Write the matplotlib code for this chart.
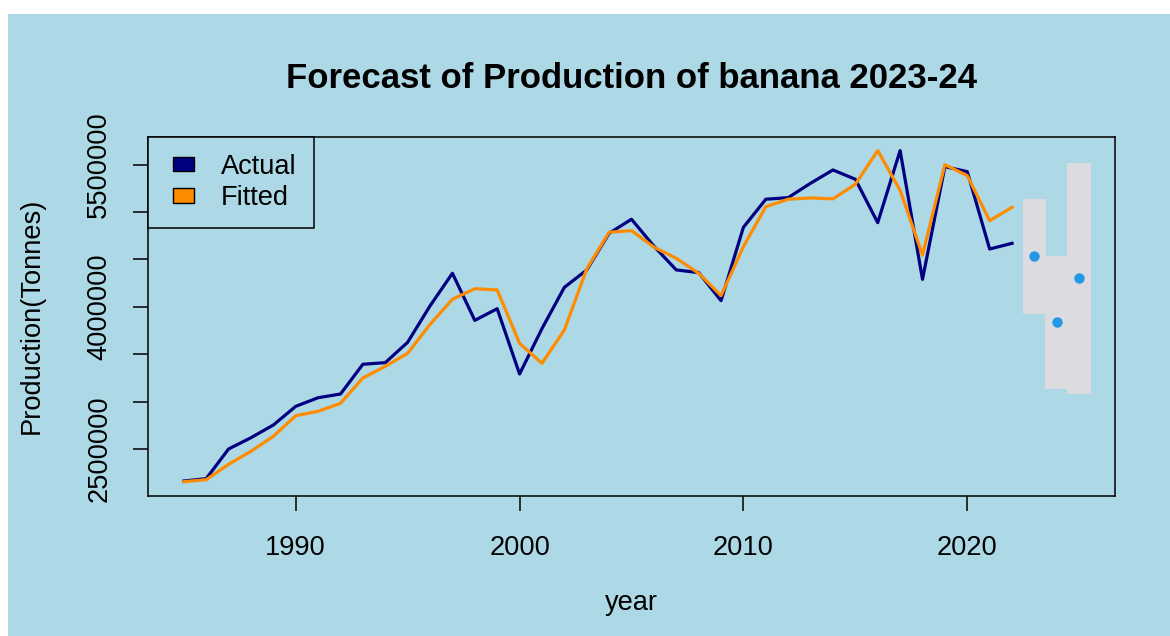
import numpy as np
import matplotlib
matplotlib.use('Agg')
import matplotlib.pyplot as plt
from matplotlib.patches import Rectangle, Patch
from matplotlib.legend_handler import HandlerPatch

plt.rcParams['font.family'] = ['Liberation Sans', 'DejaVu Sans']

# observed series, 1985-2022
years = np.arange(1985, 2023)
actual = [2162000, 2187000, 2500000, 2619000, 2753000, 2950000, 3041000, 3080000,
          3394000, 3411000, 3626000, 4010000, 4354000, 3857000, 3980000, 3291000,
          3770000, 4205000, 4389000, 4776000, 4924000, 4640000, 4389000, 4361000,
          4065000, 4839000, 5135000, 5152000, 5304000, 5444000, 5346000, 4888000,
          5648000, 4290000, 5479000, 5426000, 4610000, 4670000]
fitted = [2155000, 2176000, 2339000, 2476000, 2634000, 2851000, 2898000, 2982000,
          3249000, 3372000, 3510000, 3815000, 4080000, 4191000, 4178000, 3615000,
          3404000, 3755000, 4400000, 4787000, 4804000, 4630000, 4512000, 4354000,
          4118000, 4635000, 5057000, 5135000, 5149000, 5139000, 5293000, 5648000,
          5230000, 4546000, 5500000, 5384000, 4909000, 5050000]

# forecast with interval
fc_years = [2023, 2024, 2025]
fc_mean = [4531000, 3840000, 4304000]
fc_lo = [3928000, 3130000, 3083000]
fc_hi = [5138000, 4537000, 5518000]

yticks = np.arange(2500000, 5500001, 500000)
ylabels_shown = [2500000, 4000000, 5500000]
xticks = [1990, 2000, 2010, 2020]

bg = '#ADD8E6'
W, H = 1170, 636
fig = plt.figure(figsize=(W / 100, H / 100), dpi=100, facecolor='white')
fig.patches.append(Rectangle((8 / W, 0), 1, (H - 14) / H, transform=fig.transFigure,
                             facecolor=bg, edgecolor='none', zorder=-10))

ax = fig.add_axes([148 / W, 1 - 496 / H, (1115 - 148) / W, (496 - 136.5) / H])
ax.set_facecolor(bg)

ax.bar(fc_years, np.array(fc_hi) - np.array(fc_lo), bottom=fc_lo, width=1.05,
       color='#DBDBE0', edgecolor='none', zorder=1)
ax.plot(years, actual, color='#000080', lw=2.3, zorder=3)
ax.plot(years, fitted, color='#FF8C00', lw=2.3, zorder=3)
ax.plot(fc_years, fc_mean, 'o', color='#2398E6', ms=7.5, mec='none', zorder=4)

ax.set_xlim(1983.4, 2026.6)
ax.set_ylim(2004000, 5797000)

fs = 19.6
ax.set_xticks(xticks)
ax.set_xticklabels([str(x) for x in xticks])
ax.set_yticks(yticks)
ax.set_yticklabels([str(v) if v in ylabels_shown else '' for v in yticks],
                   rotation=90, va='center')
ax.tick_params(axis='both', length=10.8, width=1.1, labelsize=fs, color='black')
ax.tick_params(axis='x', pad=17)
ax.tick_params(axis='y', pad=15)
for s in ax.spines.values():
    s.set_linewidth(1.1)

ax.set_xlabel('year', fontsize=fs)
ax.xaxis.set_label_coords(0.5, -(603 - 496) / 359.5)
ax.xaxis.label.set_verticalalignment('center')
ax.set_ylabel('Production(Tonnes)', fontsize=fs)
ax.yaxis.set_label_coords(-(148 - 32) / 967, 0.5)
ax.yaxis.label.set_verticalalignment('center')

ax.set_title('Forecast of Production of banana 2023-24', fontsize=25,
             fontweight='bold', y=1 + (136.5 - 78) / 359.5, va='center', pad=0)


def small_box(legend, orig_handle, xdescent, ydescent, width, height, fontsize):
    w, h = 0.77 * fontsize, 0.52 * fontsize
    return Rectangle((-xdescent + width - w, -ydescent + (height - h) / 2), w, h)


handles = [Patch(facecolor='#000080', edgecolor='black', lw=1),
           Patch(facecolor='#FF8C00', edgecolor='black', lw=1)]
leg = ax.legend(handles, ['Actual', 'Fitted'], loc='upper left', fontsize=fs,
                borderaxespad=0, fancybox=False, framealpha=1, facecolor=bg,
                edgecolor='black', handlelength=1.06, handleheight=0.7,
                handletextpad=1.0, borderpad=0.63, labelspacing=0.2,
                handler_map={Patch: HandlerPatch(patch_func=small_box)})
leg.get_frame().set_linewidth(1.1)

fig.savefig('out.png', dpi=100, facecolor=fig.get_facecolor())
